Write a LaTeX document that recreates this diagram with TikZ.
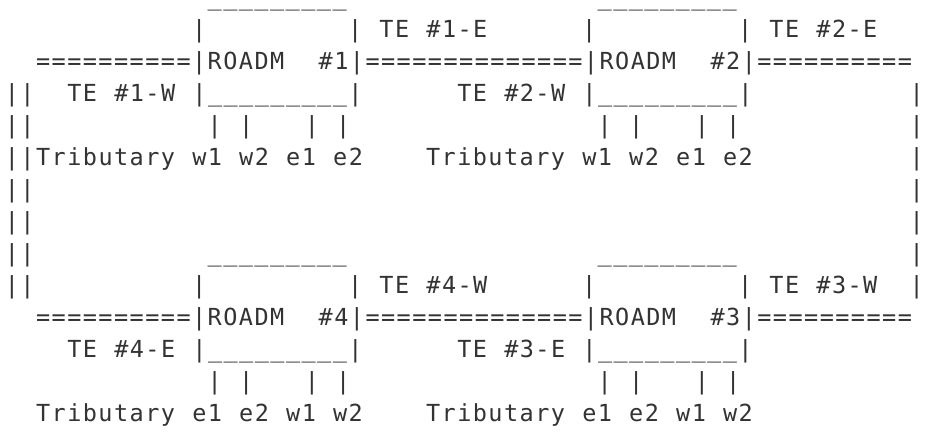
\documentclass[tikz,border=0pt]{standalone}
\usepackage{fontspec}
% monospaced face, tracked so that every character cell is 15.6pt wide
\newfontfamily\asciifont{DejaVu Sans Mono}[LetterSpace=6.2,WordSpace=1.1025]
\definecolor{asciiink}{RGB}{51,51,51}
\tikzset{
  asc/.style={inner sep=0pt,outer sep=0pt,anchor=base west,text=asciiink,
              font=\asciifont\fontsize{23.5}{32}\selectfont},
  % a run of underscores only: its box need not reach above the baseline
  lowrun/.style={text height=1pt},
}
% \asc[options]{name}{column}{row}{text}: one run of characters on the text grid
\newcommand\asc[5][]{\node[asc,#1] (#2) at ({4.9+15.6*#3},{5.7+32*(#4-1)}) {#5};}
\newcommand\uline{\_\_\_\_\_\_\_\_\_}
\begin{document}
\begin{tikzpicture}[x=1pt,y=-1pt]
\fill[white] (0,0) rectangle (927,433);
\useasboundingbox (0,0) rectangle (927,433);
% row 1: tops of the ROADM boxes
\asc[lowrun]{r1a}{13}{1}{\uline}
\asc[lowrun]{r1b}{38}{1}{\uline}
% row 2
\asc{r2a}{12}{2}{|}
\asc{r2b}{22}{2}{| TE \#1-E}
\asc{r2c}{37}{2}{|}
\asc{r2d}{47}{2}{| TE \#2-E}
% row 3: fibre links through ROADM #1 and #2
\asc{r3}{2}{3}{==========|ROADM\ \ \#1|==============|ROADM\ \ \#2|==========}
% row 4
\asc{r4a}{0}{4}{||}
\asc{r4b}{4}{4}{TE \#1-W |\uline|}
\asc{r4c}{29}{4}{TE \#2-W |\uline|}
\asc{r4d}{58}{4}{|}
% row 5: tributary drops
\asc{r5a}{0}{5}{||}
\asc{r5b}{13}{5}{|\ |\ \ \ |\ |}
\asc{r5c}{38}{5}{|\ |\ \ \ |\ |}
\asc{r5d}{58}{5}{|}
% row 6
\asc{r6a}{0}{6}{||Tributary w1 w2 e1 e2}
\asc{r6b}{27}{6}{Tributary w1 w2 e1 e2}
\asc{r6c}{58}{6}{|}
% rows 7 and 8: ring sides
\asc{r7a}{0}{7}{||}
\asc{r7b}{58}{7}{|}
\asc{r8a}{0}{8}{||}
\asc{r8b}{58}{8}{|}
% row 9: tops of the lower ROADM boxes
\asc{r9a}{0}{9}{||}
\asc[lowrun]{r9b}{13}{9}{\uline}
\asc[lowrun]{r9c}{38}{9}{\uline}
\asc{r9d}{58}{9}{|}
% row 10
\asc{r10a}{0}{10}{||}
\asc{r10b}{12}{10}{|}
\asc{r10c}{22}{10}{| TE \#4-W}
\asc{r10d}{37}{10}{|}
\asc{r10e}{47}{10}{| TE \#3-W}
\asc{r10f}{58}{10}{|}
% row 11: fibre links through ROADM #4 and #3
\asc{r11}{2}{11}{==========|ROADM\ \ \#4|==============|ROADM\ \ \#3|==========}
% row 12
\asc{r12a}{4}{12}{TE \#4-E |\uline|}
\asc{r12b}{29}{12}{TE \#3-E |\uline|}
% row 13
\asc{r13a}{13}{13}{|\ |\ \ \ |\ |}
\asc{r13b}{38}{13}{|\ |\ \ \ |\ |}
% row 14
\asc{r14a}{2}{14}{Tributary e1 e2 w1 w2}
\asc{r14b}{27}{14}{Tributary e1 e2 w1 w2}
\end{tikzpicture}
\end{document}
